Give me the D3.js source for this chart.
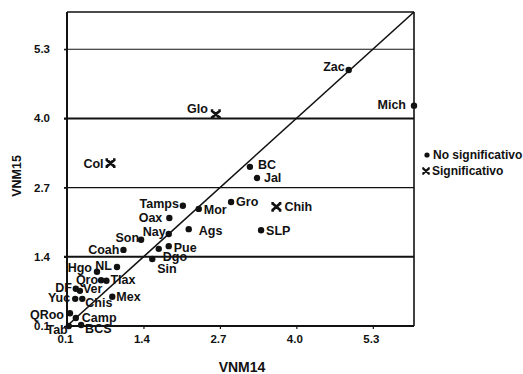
<!DOCTYPE html>
<html><head><meta charset="utf-8">
<script src="https://cdn.jsdelivr.net/npm/d3@7"></script>
<style>
body{margin:0;background:#fff}
svg{display:block}
text{font-family:"Liberation Sans",Arial,sans-serif;font-weight:bold;fill:#111}
</style>
</head><body>
<svg id="c" width="523" height="374"></svg>
<script>
// ---- data ----
const states = ["Zac","Mich","Glo","Col","BC","Jal","Chih","SLP","Gro","Mor","Ags","Tamps","Oax","Nay","Son","Pue","Dgo","Sin","Coah","Hgo","NL","Qro","Tlax","DF","Ver","Yuc","Chis","Mex","QRoo","Camp","BCS","Tab"];
const vnm14 = [4.89,6.0,2.63,0.84,3.21,3.33,3.66,3.40,2.89,2.34,2.17,2.07,1.84,1.83,1.36,1.83,1.66,1.55,1.06,0.61,0.95,0.68,0.77,0.25,0.32,0.24,0.36,0.87,0.15,0.25,0.34,0.13];
const vnm15 = [4.91,4.24,4.08,3.16,3.09,2.88,2.34,1.90,2.43,2.30,1.92,2.36,2.13,1.83,1.72,1.60,1.55,1.36,1.53,1.12,1.21,0.96,0.95,0.80,0.76,0.61,0.61,0.65,0.34,0.25,0.12,0.10];
const significantStates = ["Glo","Col","Chih"];
const tickLabels = ["0.1","1.4","2.7","4.0","5.3"];
const legendLabels = ["No significativo","Significativo"];
const xTitle = "VNM14", yTitle = "VNM15";

// ---- label placement (anchor, dx, dy) ----
const labelLayout = {
  Zac:["end",-4,-3], Mich:["end",-8,-1], Glo:["end",-8,-6], Col:["end",-7,0],
  BC:["start",8,-2], Jal:["start",7,0], Chih:["start",8,0], SLP:["start",5,0],
  Gro:["start",5,0], Mor:["start",5,1], Ags:["start",10,1], Tamps:["end",-4,-2],
  Oax:["end",-7,0], Nay:["end",-3,-2], Son:["end",-2,-2], Pue:["start",5,1],
  Dgo:["start",4,8], Sin:["start",5,10], Coah:["end",-4,0], Hgo:["end",-5,-4],
  NL:["end",-5,-1], Qro:["end",-3,-1], Tlax:["start",4,-1], DF:["end",-4,-1],
  Ver:["start",3,-2], Yuc:["end",-5,-1], Chis:["start",3,4], Mex:["start",4,0],
  QRoo:["end",-6,1], Camp:["start",6,0], BCS:["start",4,4], Tab:["end",-1,4]
};

const svg = d3.select("#c");
const x = d3.scaleLinear().domain([0.1,6.0]).range([67,414]);
const y = d3.scaleLinear().domain([0.1,6.0]).range([326,12]);
const tickVals = tickLabels.map(Number);

const data = states.map((s,i)=>({name:s,vx:vnm14[i],vy:vnm15[i],sig:significantStates.includes(s)}));

// gridlines
svg.append("g").selectAll("line").data(tickVals.slice(1)).join("line")
  .attr("x1",x(0.1)-3).attr("x2",x(6.0))
  .attr("y1",d=>y(d)).attr("y2",d=>y(d))
  .attr("stroke","#111")
  .attr("stroke-width",d=>(d===4.0||d===1.4)?2:1.2);

// axes
const xAxis = d3.axisBottom(x).tickValues(tickVals).tickFormat((d,i)=>tickLabels[i]).tickSize(3).tickPadding(6);
const gx = svg.append("g").attr("transform",`translate(0,${y(0.1)})`).call(xAxis);
gx.select(".domain").remove();
gx.selectAll("line").attr("stroke","#111").attr("stroke-width",1.2);
gx.selectAll("text").attr("font-size",11.5).attr("dx",-2).style("font-family",'"Liberation Sans",Arial,sans-serif').style("font-weight","bold").attr("fill","#111");

const yAxis = d3.axisLeft(y).tickValues(tickVals).tickFormat((d,i)=>tickLabels[i]).tickSize(3).tickPadding(14);
const gy = svg.append("g").attr("transform",`translate(${x(0.1)},0)`).call(yAxis);
gy.select(".domain").remove();
gy.selectAll("line").attr("stroke","#111").attr("stroke-width",1.2);
gy.selectAll("text").attr("font-size",11.5).attr("dy","0.3em").style("font-family",'"Liberation Sans",Arial,sans-serif').style("font-weight","bold").attr("fill","#111");

// frame
svg.append("line").attr("x1",x(0.1)).attr("x2",x(6.0)).attr("y1",y(6.0)).attr("y2",y(6.0)).attr("stroke","#111").attr("stroke-width",1.6);
svg.append("line").attr("x1",x(0.1)).attr("x2",x(6.0)).attr("y1",y(0.1)).attr("y2",y(0.1)).attr("stroke","#111").attr("stroke-width",2);
svg.append("line").attr("x1",x(0.1)).attr("x2",x(0.1)).attr("y1",y(6.0)).attr("y2",y(0.1)).attr("stroke","#111").attr("stroke-width",2);
svg.append("line").attr("x1",x(6.0)).attr("x2",x(6.0)).attr("y1",y(6.0)).attr("y2",y(0.1)).attr("stroke","#111").attr("stroke-width",1.6);

// diagonal
svg.append("line").attr("x1",x(0.1)).attr("y1",y(0.1)).attr("x2",x(6.0)).attr("y2",y(6.0))
  .attr("stroke","#111").attr("stroke-width",1.6);

// marker path for significant
const xMark = "M-4,-3.5L4,3.5M-4,3.5L4,-3.5M-5,-3.5L-2.5,-3.5M2.5,-3.5L5,-3.5M-5,3.5L-2.5,3.5M2.5,3.5L5,3.5";

const pts = svg.append("g");
pts.selectAll("circle").data(data.filter(d=>!d.sig)).join("circle")
  .attr("cx",d=>x(d.vx)).attr("cy",d=>y(d.vy)).attr("r",3.2).attr("fill","#111");
pts.selectAll("path").data(data.filter(d=>d.sig)).join("path")
  .attr("transform",d=>`translate(${x(d.vx)},${y(d.vy)})`)
  .attr("d",xMark).attr("stroke","#111").attr("stroke-width",2.8).attr("fill","none");

// labels
svg.append("g").selectAll("text").data(data).join("text")
  .attr("x",d=>x(d.vx)+labelLayout[d.name][1])
  .attr("y",d=>y(d.vy)+labelLayout[d.name][2])
  .attr("text-anchor",d=>labelLayout[d.name][0])
  .attr("dy","0.35em")
  .attr("font-size",12.5)
  .text(d=>d.name);

// axis titles
svg.append("text").attr("x",242).attr("y",372).attr("text-anchor","middle").attr("font-size",14).text(xTitle);
svg.append("text").attr("transform","translate(21,176) rotate(-90)").attr("text-anchor","middle").attr("font-size",12.5).text(yTitle);

// legend
const lg = svg.append("g");
lg.append("circle").attr("cx",427).attr("cy",155).attr("r",2.6).attr("fill","#111");
lg.append("text").attr("x",433).attr("y",155).attr("dy","0.35em").attr("font-size",12).text(legendLabels[0]);
lg.append("path").attr("transform","translate(426,171) scale(0.75)").attr("d",xMark).attr("stroke","#111").attr("stroke-width",3).attr("fill","none");
lg.append("text").attr("x",432).attr("y",171).attr("dy","0.35em").attr("font-size",12).text(legendLabels[1]);
</script>
</body></html>
